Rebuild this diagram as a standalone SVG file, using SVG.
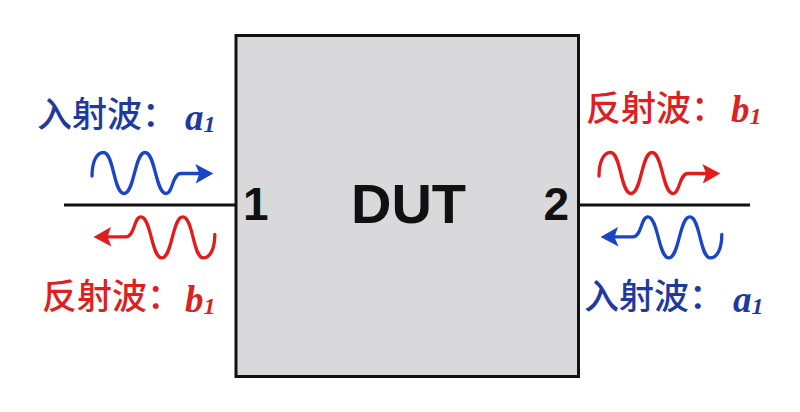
<svg xmlns="http://www.w3.org/2000/svg" xmlns:xlink="http://www.w3.org/1999/xlink" width="800" height="412" viewBox="0 0 800 412">
<style>
.box{fill:#d9d9db;stroke:#111;stroke-width:3}
.port{stroke:#111;stroke-width:3;fill:none}
.big{font-family:"Liberation Sans",Arial,sans-serif;font-weight:bold;fill:#111}
.cjk{font-family:"Noto Sans CJK SC","Noto Sans",sans-serif;font-size:35px;font-weight:500}
.math{font-family:"Liberation Serif","Times New Roman",serif;font-weight:bold;font-style:italic;font-size:37px}
.blue{fill:#1f3a9e}
.red{fill:#dd2020}
.wave{fill:none;stroke-width:3.3;stroke-linecap:round;stroke-linejoin:round}
</style>
<defs>
<marker id="headBlue" viewBox="-20 -12 24 24" refX="-14" refY="0" markerWidth="24" markerHeight="24" markerUnits="userSpaceOnUse" orient="auto">
<path d="M0,0 L-18,-9.5 L-14,0 L-17.5,10 Z" fill="#1a45c4"/>
</marker>
<marker id="headRed" viewBox="-20 -12 24 24" refX="-14" refY="0" markerWidth="24" markerHeight="24" markerUnits="userSpaceOnUse" orient="auto">
<path d="M0,0 L-18,-9.5 L-14,0 L-17.5,10 Z" fill="#e21b1b"/>
</marker>
<path id="wave" d="M92,176 C92,163 96,152.5 103.5,152.5 C114,152.5 113.5,193.5 124,193.5 C134.5,193.5 134.5,152.5 145,152.5 C155.5,152.5 155.5,193.5 166,193.5 C173,193.5 172,173.5 181,173.5 L199.3,173.5"/>
</defs>

<g id="connectors">
<line id="port1-line" class="port" x1="64" y1="205" x2="236" y2="205"/>
<line id="port2-line" class="port" x1="578" y1="205" x2="750" y2="205"/>
</g>

<g id="dut">
<rect class="box" x="236" y="35.5" width="342.5" height="341"/>
<text class="big" x="408.5" y="223" font-size="56" text-anchor="middle">DUT</text>
</g>
<g id="port1">
<text class="big" x="243" y="219.5" font-size="46">1</text>
</g>
<g id="port2">
<text class="big" x="569" y="219.5" font-size="46" text-anchor="end">2</text>
</g>

<g id="wave-a1-in-left">
<use xlink:href="#wave" class="wave" stroke="#1a45c4" marker-end="url(#headBlue)"/>
</g>
<g id="wave-b1-out-left">
<use xlink:href="#wave" class="wave" stroke="#e21b1b" marker-end="url(#headRed)" transform="rotate(180 153.4 205.2)"/>
</g>
<g id="wave-b1-out-right">
<use xlink:href="#wave" class="wave" stroke="#e21b1b" marker-end="url(#headRed)" transform="translate(507 0)"/>
</g>
<g id="wave-a1-in-right">
<use xlink:href="#wave" class="wave" stroke="#1a45c4" marker-end="url(#headBlue)" transform="translate(507 0) rotate(180 153.4 205.2)"/>
</g>

<g id="label-top-left">
<text class="cjk blue" x="37" y="127">入射波：</text>
<text class="math blue" x="185" y="130">a<tspan font-size="24" dy="2">1</tspan></text>
</g>
<g id="label-bottom-left">
<text class="cjk red" x="42" y="309">反射波：</text>
<text class="math red" x="185" y="312">b<tspan font-size="24" dy="2">1</tspan></text>
</g>
<g id="label-top-right">
<text class="cjk red" x="586" y="121">反射波：</text>
<text class="math red" x="731" y="122">b<tspan font-size="24" dy="2">1</tspan></text>
</g>
<g id="label-bottom-right">
<text class="cjk blue" x="584" y="309">入射波：</text>
<text class="math blue" x="733" y="312">a<tspan font-size="24" dy="2">1</tspan></text>
</g>
</svg>
